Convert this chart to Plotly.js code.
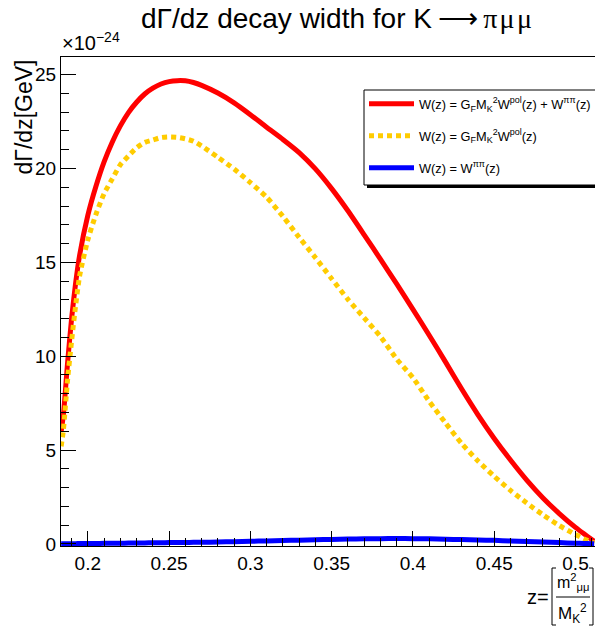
<!DOCTYPE html>
<html>
<head>
<meta charset="utf-8">
<script src="https://cdn.plot.ly/plotly-3.0.1.min.js"></script>
<style>html,body{margin:0;padding:0;overflow:hidden;background:#fff}</style>
</head>
<body>
<div id="chart" style="width:595px;height:630px"></div>
<script>
// ---- data ----
const z = [0.1836,0.185,0.1875,0.19,0.1925,0.195,0.2,0.205,0.21,0.215,0.22,0.225,0.23,0.235,0.24,0.245,0.25,0.255,0.26,0.265,0.27,0.28,0.29,0.30,0.31,0.32,0.33,0.34,0.35,0.36,0.37,0.38,0.39,0.40,0.41,0.42,0.43,0.44,0.45,0.46,0.47,0.48,0.49,0.50,0.505,0.51,0.5115];
const wTotal = [6.0,6.9,9.6,12.0,13.9,15.4,17.5,19.05,20.35,21.4,22.27,22.98,23.53,23.97,24.28,24.5,24.63,24.68,24.67,24.58,24.43,24.02,23.5,22.87,22.2,21.55,20.85,19.98,18.93,17.75,16.47,15.17,13.85,12.5,11.12,9.7,8.25,6.88,5.62,4.47,3.4,2.45,1.62,0.88,0.55,0.24,0.15];
const wPol = [5.2,6.1,8.7,10.8,12.7,14.3,16.2,17.56,18.66,19.44,20.2,20.67,21.1,21.39,21.52,21.65,21.68,21.66,21.58,21.45,21.2,20.6,19.97,19.25,18.47,17.45,16.33,15.25,14.13,13.03,12.04,11.05,9.85,8.85,7.6,6.45,5.35,4.42,3.6,2.85,2.18,1.55,0.98,0.5,0.28,0.1,0.04];
const wPiPi = [0.01,0.01,0.01,0.015,0.015,0.02,0.02,0.025,0.03,0.035,0.04,0.045,0.05,0.055,0.06,0.065,0.07,0.075,0.08,0.085,0.09,0.1,0.12,0.14,0.16,0.18,0.2,0.22,0.24,0.26,0.27,0.28,0.285,0.28,0.27,0.25,0.23,0.21,0.19,0.16,0.13,0.1,0.07,0.04,0.025,0.01,0.005];
const seriesNames = [
  "W(z) = G<sub>F</sub>M<sub>K</sub><sup>2</sup>W<sup>pol</sup>(z) + W<sup>ππ</sup>(z)",
  "W(z) = G<sub>F</sub>M<sub>K</sub><sup>2</sup>W<sup>pol</sup>(z)",
  "W(z) = W<sup>ππ</sup>(z)"
];
const SERIF = "Liberation Serif, Times New Roman, serif";
const titleText = "dΓ/dz decay width for K\u2009⟶\u2009<span style=\"font-family:" + SERIF + "\">π\u200Aμ\u200Aμ</span>";
const yTitle = "dΓ/dz[GeV]";
const expText = "×10<sup>−24</sup>";

// ---- layout helpers (pixel -> paper) ----
const ML = 61, MT = 57, W = 595, H = 630, MB = 84, MR = 0;
const PW = W - ML - MR, PH = H - MT - MB;
const px = x => (x - ML) / PW;
const py = y => (H - MB - y) / PH;
const FONT = "Liberation Sans, Arial, sans-serif";

const traces = [
  {x: z, y: wTotal, name: seriesNames[0], legendgroup: "a", mode: "lines",
   line: {color: "#ff0000", width: 5, shape: "spline", smoothing: 0.6}},
  {x: z, y: wPol, name: seriesNames[1], legendgroup: "b", mode: "lines",
   line: {color: "#ffcc00", width: 5, dash: "5px,4px", shape: "spline", smoothing: 0.6}},
  {x: z, y: wPiPi, name: seriesNames[2], legendgroup: "c", mode: "lines",
   line: {color: "#0000ff", width: 5, shape: "spline", smoothing: 0.6}}
];

const layout = {
  width: W, height: H,
  margin: {l: ML, r: MR, t: MT, b: MB, autoexpand: false},
  paper_bgcolor: "#fff", plot_bgcolor: "#fff",
  font: {family: FONT, color: "#000"},
  showlegend: true,
  title: {text: titleText, font: {size: 28, family: FONT, color: "#000"},
          x: 336.5 / W, xref: "container", xanchor: "center",
          y: 1 - 18 / H, yref: "container", yanchor: "middle"},
  xaxis: {range: [0.1835, 0.512], tick0: 0.2, dtick: 0.05, ticks: "inside", ticklen: 15,
          tickcolor: "#000", tickwidth: 1, showline: true, linecolor: "#000", linewidth: 1,
          mirror: true, showgrid: false, zeroline: false,
          tickfont: {size: 19, family: FONT, color: "#000"},
          minor: {dtick: 0.01, ticks: "inside", ticklen: 8, tickcolor: "#000", showgrid: false}},
  yaxis: {range: [-0.11, 25.94], tick0: 0, dtick: 5, ticks: "inside", ticklen: 15,
          tickcolor: "#000", tickwidth: 1, showline: true, linecolor: "#000", linewidth: 1,
          showgrid: false, zeroline: false, ticklabelstandoff: 0,
          tickfont: {size: 19, family: FONT, color: "#000"},
          minor: {dtick: 1, ticks: "inside", ticklen: 8, tickcolor: "#000", showgrid: false}},
  legend: {x: px(364), y: py(89), xanchor: "left", yanchor: "top",
           bgcolor: "rgba(0,0,0,0)", borderwidth: 0,
           font: {size: 12.8, family: FONT, color: "#000"},
           tracegroupgap: 12.3, traceorder: "grouped", itemwidth: 45},
  shapes: [
    // legend shadow and frame
    {type: "rect", xref: "paper", yref: "paper", x0: px(367), x1: px(610), y0: py(188), y1: py(93),
     fillcolor: "#000", line: {width: 0}, layer: "above"},
    {type: "rect", xref: "paper", yref: "paper", x0: px(364), x1: px(607), y0: py(185), y1: py(90),
     fillcolor: "#fff", line: {color: "#000", width: 1}, layer: "above"},
    // x-title brackets and fraction line
    {type: "path", xref: "paper", yref: "paper",
     path: `M ${px(556)} ${py(568)} L ${px(552)} ${py(568)} L ${px(552)} ${py(625)} L ${px(556)} ${py(625)}`,
     line: {color: "#000", width: 1}},
    {type: "path", xref: "paper", yref: "paper",
     path: `M ${px(589)} ${py(568)} L ${px(593)} ${py(568)} L ${px(593)} ${py(625)} L ${px(589)} ${py(625)}`,
     line: {color: "#000", width: 1}},
    {type: "line", xref: "paper", yref: "paper", x0: px(556), x1: px(590), y0: py(597), y1: py(597),
     line: {color: "#000", width: 1}}
  ],
  annotations: [
    {text: yTitle, xref: "paper", yref: "paper", x: px(24), y: py(58), xanchor: "center", yanchor: "top",
     textangle: -90, showarrow: false, font: {size: 23, family: FONT, color: "#000"}},
    {text: expText, xref: "paper", yref: "paper", x: px(60), y: py(56), xanchor: "left", yanchor: "bottom",
     showarrow: false, font: {size: 20, family: FONT, color: "#000"}},
    {text: "z=", xref: "paper", yref: "paper", x: px(537.5), y: py(597), xanchor: "center", yanchor: "middle",
     showarrow: false, font: {size: 20, family: FONT, color: "#000"}},
    {text: "m<sup>2</sup><sub>μμ</sub>", xref: "paper", yref: "paper", x: px(572.5), y: py(582), xanchor: "center", yanchor: "middle",
     showarrow: false, font: {size: 16, family: FONT, color: "#000"}},
    {text: "M<sub>K</sub><sup>2</sup>", xref: "paper", yref: "paper", x: px(572), y: py(613), xanchor: "center", yanchor: "middle",
     showarrow: false, font: {size: 17, family: FONT, color: "#000"}}
  ]
};

Plotly.newPlot("chart", traces, layout, {displayModeBar: false, staticPlot: true});
</script>
</body>
</html>
